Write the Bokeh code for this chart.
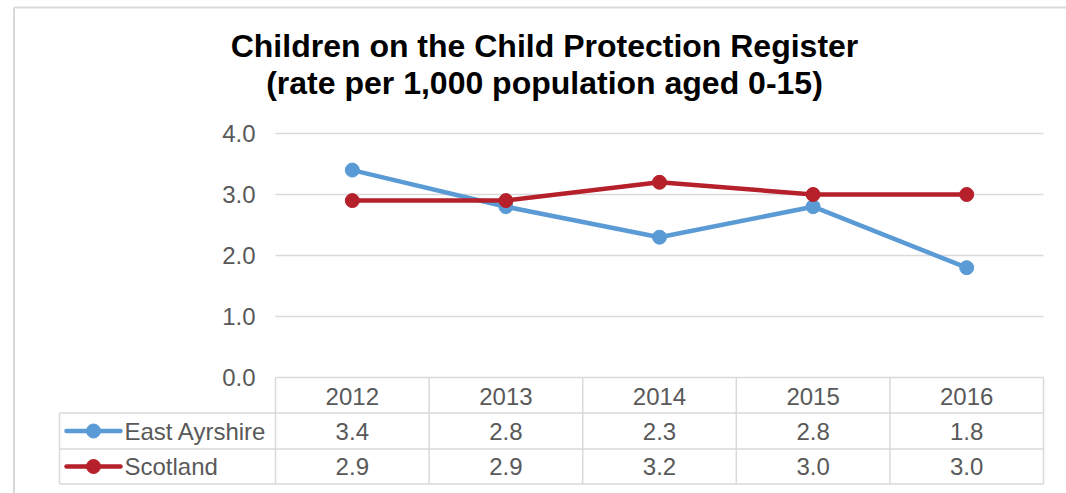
from bokeh.plotting import figure
from bokeh.models import Range1d, ColumnDataSource
from bokeh.core.properties import value
from bokeh.embed import file_html
from bokeh.resources import INLINE

# ---- data ----
years = ["2012", "2013", "2014", "2015", "2016"]
east_ayrshire = [3.4, 2.8, 2.3, 2.8, 1.8]
scotland = [2.9, 2.9, 3.2, 3.0, 3.0]
series_names = ["East Ayrshire", "Scotland"]
y_ticks = [0, 1, 2, 3, 4]
title_lines = ["Children on the Child Protection Register",
               "(rate per 1,000 population aged 0-15)"]

# ---- style / layout ----
BLUE = "#5B9BD5"
RED = "#B5202A"
TEXT = "#595959"
GRID = "#D9D9D9"
FONT = value("Liberation Sans")
FS = "24px"

W, H = 1066, 493          # figure size
OFF = 0                   # page offset of figure
PLOT_L, PLOT_R = 275, 1043   # plot area in page pixels
Y0_PX, UNIT_PX = 377, 61     # y of value 0 and pixels per unit
CAT_PX = (PLOT_R - PLOT_L) / len(years)


def xd(px):
    """page pixel x -> data x (category i centred at i)"""
    return (px - PLOT_L) / CAT_PX - 0.5


def yd(py):
    """page pixel y -> data y"""
    return (Y0_PX - py) / UNIT_PX


p = figure(width=W, height=H, output_backend="svg", toolbar_location=None,
           x_range=Range1d(xd(OFF), xd(OFF + W)),
           y_range=Range1d(yd(OFF + H), yd(OFF)),
           x_axis_type=None, y_axis_type=None, min_border=0,
           background_fill_color="white", border_fill_color="white")
p.grid.visible = False
p.outline_line_color = None

# chart outer border (top and left visible)
p.segment(x0=[xd(13.5), xd(13.5)], y0=[yd(7), yd(7)],
          x1=[xd(13.5), xd(1070)], y1=[yd(500), yd(7)],
          line_color="#D9D9D9", line_width=2)

# title
p.text(x=[xd(544)] * 2, y=[yd(45), yd(82)], text=title_lines,
       text_font=FONT, text_font_style="bold", text_font_size="32px",
       text_color="black", text_align="center", text_baseline="middle")

n = len(years)
xs = list(range(n))

# gridlines + y tick labels
p.segment(x0=[-0.5] * len(y_ticks), y0=y_ticks, x1=[n - 0.5] * len(y_ticks),
          y1=y_ticks, line_color=GRID, line_width=1.5)
p.text(x=[xd(255)] * len(y_ticks), y=y_ticks,
       text=[f"{t:.1f}" for t in y_ticks],
       text_font=FONT, text_font_size=FS, text_color=TEXT,
       text_align="right", text_baseline="middle")

# data table
r_bot = 483.5
LEFT_PX = 59
# horizontal borders
hy = [412.5, 448.5, r_bot]
p.segment(x0=[xd(LEFT_PX)] * 3, y0=[yd(v) for v in hy],
          x1=[n - 0.5] * 3, y1=[yd(v) for v in hy],
          line_color=GRID, line_width=1.5)
# vertical borders
vx = [i - 0.5 for i in range(n + 1)]
p.segment(x0=vx, y0=[0] * len(vx), x1=vx, y1=[yd(r_bot)] * len(vx),
          line_color=GRID, line_width=1.5)
p.segment(x0=[xd(LEFT_PX)], y0=[yd(412.5)], x1=[xd(LEFT_PX)], y1=[yd(r_bot)],
          line_color=GRID, line_width=1.5)

# header row (years)
p.text(x=xs, y=[yd(395.5)] * n, text=years, text_font=FONT,
       text_font_size=FS, text_color=TEXT, text_align="center",
       text_baseline="middle")

rows = [(series_names[0], east_ayrshire, BLUE, 430.5),
        (series_names[1], scotland, RED, 466)]
for name, vals, col, ypx in rows:
    yy = yd(ypx)
    p.text(x=xs, y=[yy] * n, text=[f"{v:.1f}" for v in vals], text_font=FONT,
           text_font_size=FS, text_color=TEXT, text_align="center",
           text_baseline="middle")
    # legend key
    p.line(x=[xd(66), xd(120)], y=[yy, yy], line_color=col, line_width=4.5,
           line_cap="round")
    p.scatter(x=[xd(93)], y=[yy], size=14, fill_color=col, line_color=col)
    p.text(x=[xd(124)], y=[yy], text=[name], text_font=FONT,
           text_font_size=FS, text_color=TEXT, text_align="left",
           text_baseline="middle")

# series
for vals, col in [(east_ayrshire, BLUE), (scotland, RED)]:
    src = ColumnDataSource(dict(x=xs, y=vals))
    p.line(x="x", y="y", source=src, line_color=col, line_width=4.5,
           line_join="round")
    p.scatter(x="x", y="y", source=src, size=14, fill_color=col,
              line_color=col)

open("out.html", "w").write(file_html(p, INLINE))
